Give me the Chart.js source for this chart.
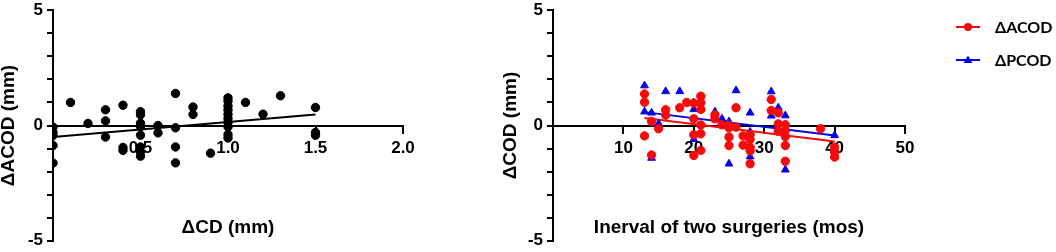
<!DOCTYPE html>
<html>
<head>
<meta charset="utf-8">
<script src="https://cdn.jsdelivr.net/npm/chart.js@4.4.1/dist/chart.umd.min.js"></script>
<style>
body { margin: 0; background: #fff; }
#wrap { position: relative; width: 1056px; height: 252px; overflow: hidden; }
#leftBox { position: absolute; left: -3px; top: -4px; width: 443px; height: 259px; }
#rightBox { position: absolute; left: 495px; top: -4px; width: 561px; height: 259px; }
</style>
</head>
<body>
<div id="wrap">
  <div id="leftBox"><canvas id="leftChart"></canvas></div>
  <div id="rightBox"><canvas id="rightChart"></canvas></div>
</div>
<script>
// left panel: ΔCD vs ΔACOD
var cdValues = [0, 0, 0, 0, 0, 0.1, 0.2, 0.3, 0.3, 0.3, 0.4, 0.4, 0.4,
  0.5, 0.5, 0.5, 0.5, 0.5, 0.5, 0.5, 0.5, 0.6, 0.6, 0.7, 0.7, 0.7, 0.7,
  0.8, 0.8, 0.9, 1.0, 1.0, 1.0, 1.0, 1.0, 1.0, 1.0, 1.0, 1.0, 1.0,
  1.1, 1.2, 1.3, 1.5, 1.5, 1.5];
var acodValues = [-0.07, -0.29, -0.43, -0.87, -1.63, 1.0, 0.09, 0.68, 0.2, -0.5, 0.88, -0.95, -1.08,
  0.6, 0.46, 0.1, -0.05, -0.42, -0.93, -1.15, -1.33, 0.0, -0.32, 1.39, -0.1, -0.93, -1.62,
  0.8, 0.48, -1.2, 1.2, 1.06, 0.84, 0.67, 0.48, 0.3, 0.13, -0.06, -0.39, -0.54,
  1.0, 0.49, 1.29, 0.78, -0.3, -0.42];
var cdFitX = [0, 1.5];
var cdFitY = [-0.5, 0.48];

// right panel: interval vs ΔACOD / ΔPCOD
var seriesNames = ['ΔACOD', 'ΔPCOD'];
var acodMonths = [13, 13, 13, 14, 14, 15, 16, 16, 18, 19, 20, 20, 20, 20,
  21, 21, 21, 21, 21, 21, 23, 23, 24, 25, 25, 25, 25, 26, 26, 27, 27,
  28, 28, 28, 28, 28, 31, 31, 32, 32, 32, 33, 33, 33, 33, 33, 38, 40, 40, 40];
var acodDelta = [1.37, 1.01, -0.45, 0.18, -1.28, -0.14, 0.68, 0.45, 0.77, 1.0, 0.97, 0.29, -0.4, -1.3,
  1.27, 1.0, 0.7, 0.02, -0.36, -1.08, 0.46, 0.29, 0.03, 0.0, -0.1, -0.5, -0.87, 0.77, -0.07, -0.45, -0.85,
  -0.4, -0.6, -0.95, -1.1, -1.66, 1.13, 0.65, 0.55, 0.07, -0.25, 0.03, -0.22, -0.48, -0.87, -1.55, -0.14, -0.94, -1.15, -1.37];
var pcodMonths = [13, 13, 14, 14, 15, 16, 18, 20, 20, 20, 21, 21, 23, 24, 25, 25, 26,
  28, 28, 28, 31, 31, 32, 33, 33, 40, 40];
var pcodDelta = [1.73, 0.6, 0.55, -1.41, 0.08, 1.48, 1.48, 1.0, 0.7, -0.6, 1.0, 0.7, 0.6, 0.29, 0.17, -1.66, 1.52,
  0.55, -0.28, -1.35, 1.47, 0.42, 0.77, 0.43, -1.92, -0.43, -1.1];
var acodFitX = [13, 40];
var acodFitY = [0.33, -0.69];
var pcodFitX = [13, 40];
var pcodFitY = [0.58, -0.43];

var yTicks = [-5, 0, 5];

function toPoints(xs, ys) {
  return xs.map(function(x, i) { return { x: x, y: ys[i] }; });
}

Chart.defaults.font.family = '"Liberation Sans", Arial, sans-serif';
Chart.defaults.font.size = 17;
Chart.defaults.font.weight = 'bold';
Chart.defaults.color = '#000';

// axis title drawn low in the plot, like the original
var xTitle = {
  id: 'xTitle',
  afterDraw: function(chart, args, opts) {
    var ctx = chart.ctx, a = chart.chartArea;
    ctx.save();
    ctx.font = 'bold 19px "Liberation Sans", Arial, sans-serif';
    ctx.fillStyle = '#000';
    ctx.textAlign = 'center';
    ctx.textBaseline = 'middle';
    ctx.fillText(opts.text, (a.left + a.right) / 2, opts.y);
    ctx.restore();
  }
};

var sideLegend = {
  id: 'sideLegend',
  afterDraw: function(chart, args, opts) {
    var ctx = chart.ctx;
    var items = chart.data.datasets.filter(function(d) { return d.label; });
    ctx.save();
    items.forEach(function(d, i) {
      var y = opts.top + i * opts.gap;
      ctx.strokeStyle = d.borderColor;
      ctx.fillStyle = d.backgroundColor;
      ctx.lineWidth = 2;
      ctx.beginPath();
      ctx.moveTo(opts.left, y);
      ctx.lineTo(opts.left + 24, y);
      ctx.stroke();
      var cx = opts.left + 12;
      ctx.beginPath();
      if (d.pointStyle === 'triangle') {
        ctx.moveTo(cx, y - 4.5);
        ctx.lineTo(cx + 4.5, y + 3);
        ctx.lineTo(cx - 4.5, y + 3);
        ctx.closePath();
      } else {
        ctx.arc(cx, y, 4, 0, Math.PI * 2);
      }
      ctx.fill();
      ctx.font = 'bold 16px Lato, "Noto Sans", sans-serif';
      ctx.fillStyle = '#000';
      ctx.textAlign = 'left';
      ctx.textBaseline = 'middle';
      ctx.fillText(d.label, opts.left + 39, y + 1);
    });
    ctx.restore();
  }
};

function yScale(title, width, pad) {
  return {
    position: 'left',
    min: -5, max: 5,
    ticks: {
      stepSize: 1,
      padding: 4,
      autoSkip: false,
      callback: function(v) { return yTicks.indexOf(v) >= 0 ? v : ''; }
    },
    grid: { drawOnChartArea: false, tickLength: 6, color: '#000', lineWidth: 2 },
    border: { color: '#000', width: 2 },
    title: { display: true, text: title, padding: { top: pad, bottom: 0 }, font: { size: 19, weight: 'bold' } },
    afterFit: function(s) { s.width = width; }
  };
}

function xScale(max, step, fmt) {
  return {
    type: 'linear',
    position: { y: 0 },
    min: 0, max: max,
    ticks: {
      stepSize: step,
      padding: 6,
      maxRotation: 0,
      autoSkip: false,
      callback: function(v) { return v === 0 ? '' : fmt(v); }
    },
    grid: { drawOnChartArea: false, tickLength: 7, color: '#000', lineWidth: 2 },
    border: { color: '#000', width: 2 }
  };
}

new Chart(document.getElementById('leftChart'), {
  type: 'scatter',
  data: {
    datasets: [{
      data: toPoints(cdValues, acodValues),
      backgroundColor: '#000',
      borderColor: '#000',
      pointRadius: 4.2
    }, {
      data: toPoints(cdFitX, cdFitY),
      showLine: true,
      borderColor: '#000',
      borderWidth: 2,
      pointRadius: 0
    }]
  },
  options: {
    responsive: true,
    maintainAspectRatio: false,
    animation: false,
    layout: { padding: { top: 0, bottom: 0, left: 0, right: 37 } },
    plugins: {
      legend: { display: false },
      tooltip: { enabled: false },
      xTitle: { text: 'ΔCD (mm)', y: 232 }
    },
    scales: {
      x: xScale(2, 0.5, function(v) { return v.toFixed(1); }),
      y: yScale('ΔACOD (mm)', 56, 0)
    }
  },
  plugins: [xTitle]
});

new Chart(document.getElementById('rightChart'), {
  type: 'scatter',
  data: {
    datasets: [{
      label: seriesNames[0],
      data: toPoints(acodMonths, acodDelta),
      backgroundColor: '#f50a0a',
      borderColor: '#f50a0a',
      pointStyle: 'circle',
      pointRadius: 4.2
    }, {
      label: seriesNames[1],
      data: toPoints(pcodMonths, pcodDelta),
      backgroundColor: '#0505e6',
      borderColor: '#0505e6',
      pointStyle: 'triangle',
      pointRadius: 4.5
    }, {
      data: toPoints(acodFitX, acodFitY),
      showLine: true,
      borderColor: '#f50a0a',
      borderWidth: 2,
      pointRadius: 0
    }, {
      data: toPoints(pcodFitX, pcodFitY),
      showLine: true,
      borderColor: '#0505e6',
      borderWidth: 2,
      pointRadius: 0
    }]
  },
  options: {
    responsive: true,
    maintainAspectRatio: false,
    animation: false,
    layout: { padding: { top: 0, bottom: 0, left: 0, right: 151 } },
    plugins: {
      legend: { display: false },
      tooltip: { enabled: false },
      xTitle: { text: 'Inerval of two surgeries (mos)', y: 232 },
      sideLegend: { left: 461, top: 31, gap: 33 }
    },
    scales: {
      x: xScale(50, 10, function(v) { return String(v); }),
      y: yScale('ΔCOD (mm)', 58, 4)
    }
  },
  plugins: [xTitle, sideLegend]
});
</script>
</body>
</html>
